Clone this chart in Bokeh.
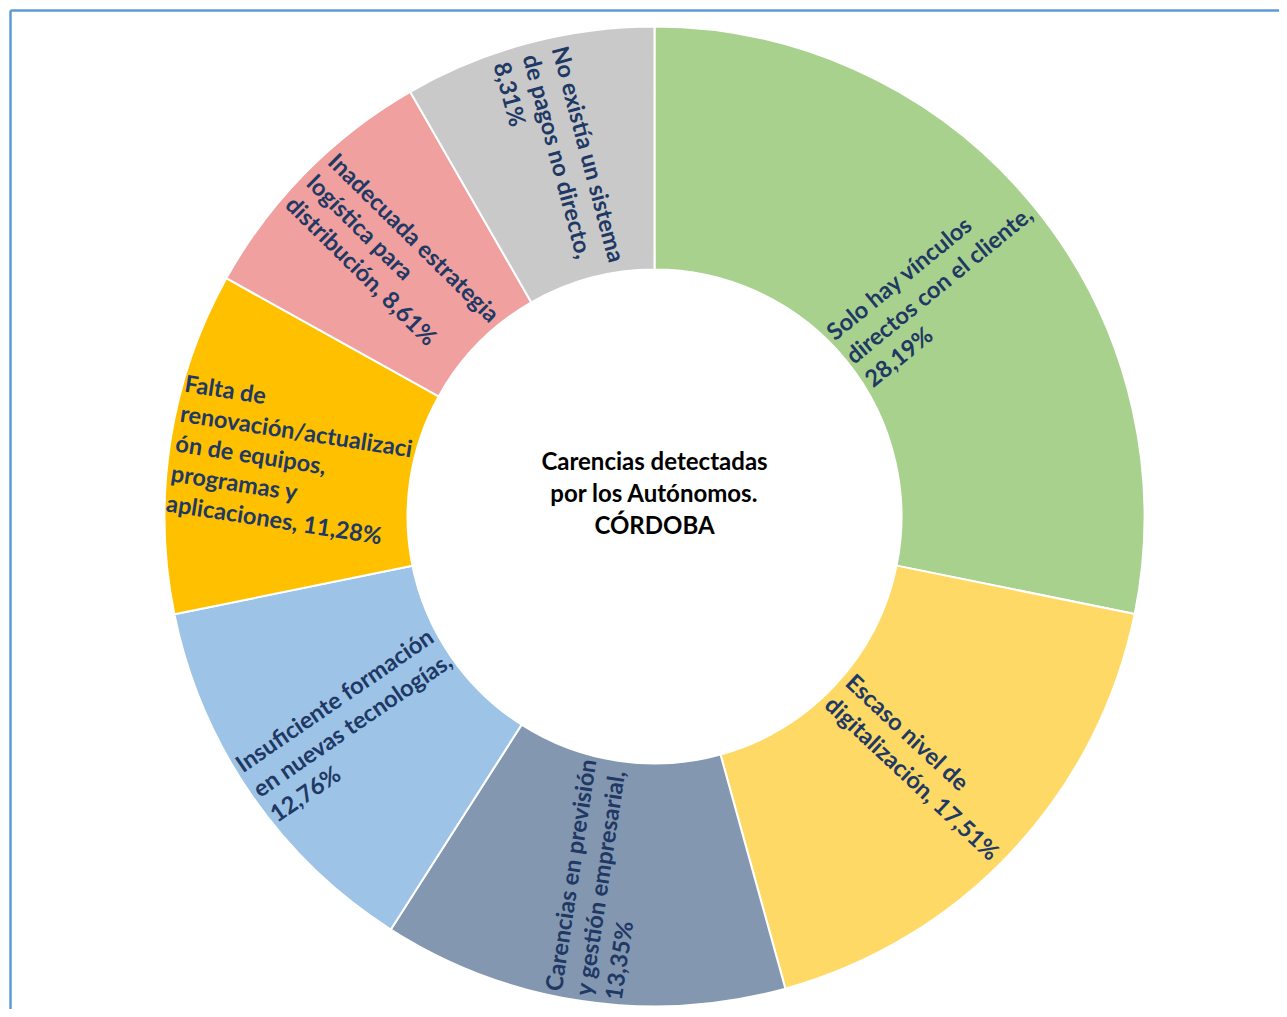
import math
from bokeh.plotting import figure
from bokeh.models import Range1d, ColumnDataSource
from bokeh.core.properties import value
from bokeh.embed import file_html
from bokeh.resources import INLINE

# ---- data ----
categories = [
    "Solo hay vínculos\ndirectos con el cliente,\n28,19%",
    "Escaso nivel de\ndigitalización, 17,51%",
    "Carencias en previsión\ny gestión empresarial,\n13,35%",
    "Insuficiente formación\nen nuevas tecnologías,\n12,76%",
    "Falta de\nrenovación/actualizaci\nón de equipos,\nprogramas y\naplicaciones, 11,28%",
    "Inadecuada estrategia\nlogística para\ndistribución, 8,61%",
    "No existía un sistema\nde pagos no directo,\n8,31%",
]
values = [28.19, 17.51, 13.35, 12.76, 11.28, 8.61, 8.31]
colors = ["#A9D18E", "#FFD966", "#8497B0", "#9DC3E6", "#FFC000", "#EFA09F", "#C9C9C9"]
title_text = "Carencias detectadas\npor los Autónomos.\nCÓRDOBA"

# ---- layout ----
W, H = 1279, 1009
CX, CY = 654, 493
R_OUT, R_IN, R_LAB = 490, 247, 367

total = sum(values)
starts, ends, lx, ly, lang = [], [], [], [], []
cum = 0.0
for v in values:
    a0 = math.pi / 2 - 2 * math.pi * cum / total
    cum += v
    a1 = math.pi / 2 - 2 * math.pi * cum / total
    starts.append(a0)
    ends.append(a1)
    mid = (a0 + a1) / 2
    lx.append(CX + R_LAB * math.cos(mid))
    ly.append(CY + R_LAB * math.sin(mid))
    rot = mid if math.cos(mid) >= 0 else mid + math.pi
    rot = math.atan2(math.sin(rot), math.cos(rot))
    lang.append(rot)

src = ColumnDataSource(dict(start=starts, end=ends, color=colors,
                            label=categories, lx=lx, ly=ly, lang=lang))

p = figure(width=W, height=H, x_range=Range1d(0, W), y_range=Range1d(0, H),
           output_backend="svg", toolbar_location=None, min_border=0)
p.axis.visible = False
p.grid.visible = False
p.outline_line_color = None
p.background_fill_color = "white"
p.border_fill_color = "white"

p.annular_wedge(x=CX, y=CY, inner_radius=R_IN, outer_radius=R_OUT,
                start_angle="start", end_angle="end", direction="clock",
                fill_color="color", line_color="white", line_width=2, source=src)

p.text(x="lx", y="ly", text="label", angle="lang", source=src,
       text_font=value("Lato"), text_font_style="bold", text_font_size="23.5px",
       text_color="#203864", text_align="left", anchor="center",
       text_line_height=1.08)

p.text(x=[CX], y=[CY + 24], text=[title_text], text_font=value("Lato"),
       text_font_style="bold", text_font_size="24px", text_color="black",
       text_align="center", anchor="center", text_line_height=1.1)

# frame (left and top edges visible)
p.segment(x0=[10, 10], y0=[-20, H - 10], x1=[10, W + 20], y1=[H - 10, H - 10],
          line_color="#5B9BD5", line_width=2.5)

open("out.html", "w").write(file_html(p, INLINE))
